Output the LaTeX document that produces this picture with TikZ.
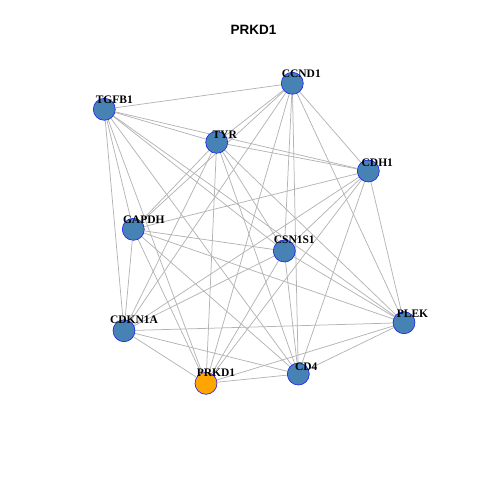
\documentclass[tikz,border=0pt]{standalone}
\usepackage{fontspec}
\setmainfont{Liberation Serif}
\setsansfont{Liberation Sans}
\usetikzlibrary{backgrounds}
\definecolor{GeneFill}{HTML}{4682B4}
\definecolor{GeneRim}{HTML}{1A1AF0}
\definecolor{HubFill}{HTML}{FFA500}
\definecolor{LinkInk}{HTML}{B4B4B4}

\begin{document}
\begin{tikzpicture}[
    x=1pt, y=-1pt,
    gene/.style={
      circle,
      inner sep=0pt,
      minimum size=22pt,
      line width=0.6pt,
      draw=GeneRim,
      fill=GeneFill,
    },
    hub/.style={gene, fill=HubFill},
    lbl/.style={
      font=\rmfamily\bfseries\fontsize{11.5}{12}\selectfont,
      inner sep=0pt,
    },
    link/.style={draw=LinkInk, line width=0.75pt},
  ]
    \useasboundingbox (0,0) rectangle (480,480);
    \node[font=\sffamily\bfseries\fontsize{13.5}{14}\selectfont] (title) at (253.5,30) {PRKD1};

    \node[gene] (ccnd) at (292.3,83.3) {};
    \node[gene] (tgfb) at (104.3,109.3) {};
    \node[gene] (tyr) at (216.7,142.3) {};
    \node[gene] (cdh) at (368.3,171) {};
    \node[gene] (gapdh) at (133.3,229.3) {};
    \node[gene] (csn) at (284.3,251) {};
    \node[gene] (cdkn) at (124,330.7) {};
    \node[gene] (plek) at (404,322.7) {};
    \node[gene] (cd4) at (298.3,374) {};
    \node[hub] (prkd) at (206,383.3) {};

    % labels sit up and to the right of each circle
    \foreach \n/\t/\dx/\dy in {ccnd/CCND1/9/10, tgfb/TGFB1/10/9.3, tyr/TYR/8/8,
        cdh/CDH1/9/8.5, gapdh/GAPDH/10.5/10, csn/CSN1S1/10/11.5,
        cdkn/CDKN1A/10/11, plek/PLEK/8.5/9, cd4/CD4/8/6.8, prkd/PRKD1/10/10.8} {
      \node[lbl] (\n-l) at ([xshift=\dx pt,yshift=\dy pt]\n.center) {\t};
    }

    \begin{scope}[on background layer]
      \foreach \a/\b in {
          tgfb/ccnd, tgfb/tyr, tgfb/cdh, tgfb/gapdh, tgfb/csn,
          tgfb/cdkn, tgfb/plek, tgfb/cd4, tgfb/prkd,
          ccnd/tyr, ccnd/cdh, ccnd/gapdh, ccnd/csn, ccnd/cdkn,
          ccnd/plek, ccnd/cd4, ccnd/prkd,
          tyr/cdh, tyr/gapdh, tyr/csn, tyr/cdkn, tyr/plek, tyr/cd4, tyr/prkd,
          cdh/gapdh, cdh/csn, cdh/cdkn, cdh/plek, cdh/cd4, cdh/prkd,
          gapdh/csn, gapdh/cdkn, gapdh/plek, gapdh/cd4, gapdh/prkd,
          csn/cdkn, csn/plek, csn/cd4, csn/prkd,
          cdkn/plek, cdkn/cd4, cdkn/prkd,
          plek/cd4, plek/prkd,
          cd4/prkd} {
        \draw[link] (\a) -- (\b);
      }
    \end{scope}
  \end{tikzpicture}
\end{document}
